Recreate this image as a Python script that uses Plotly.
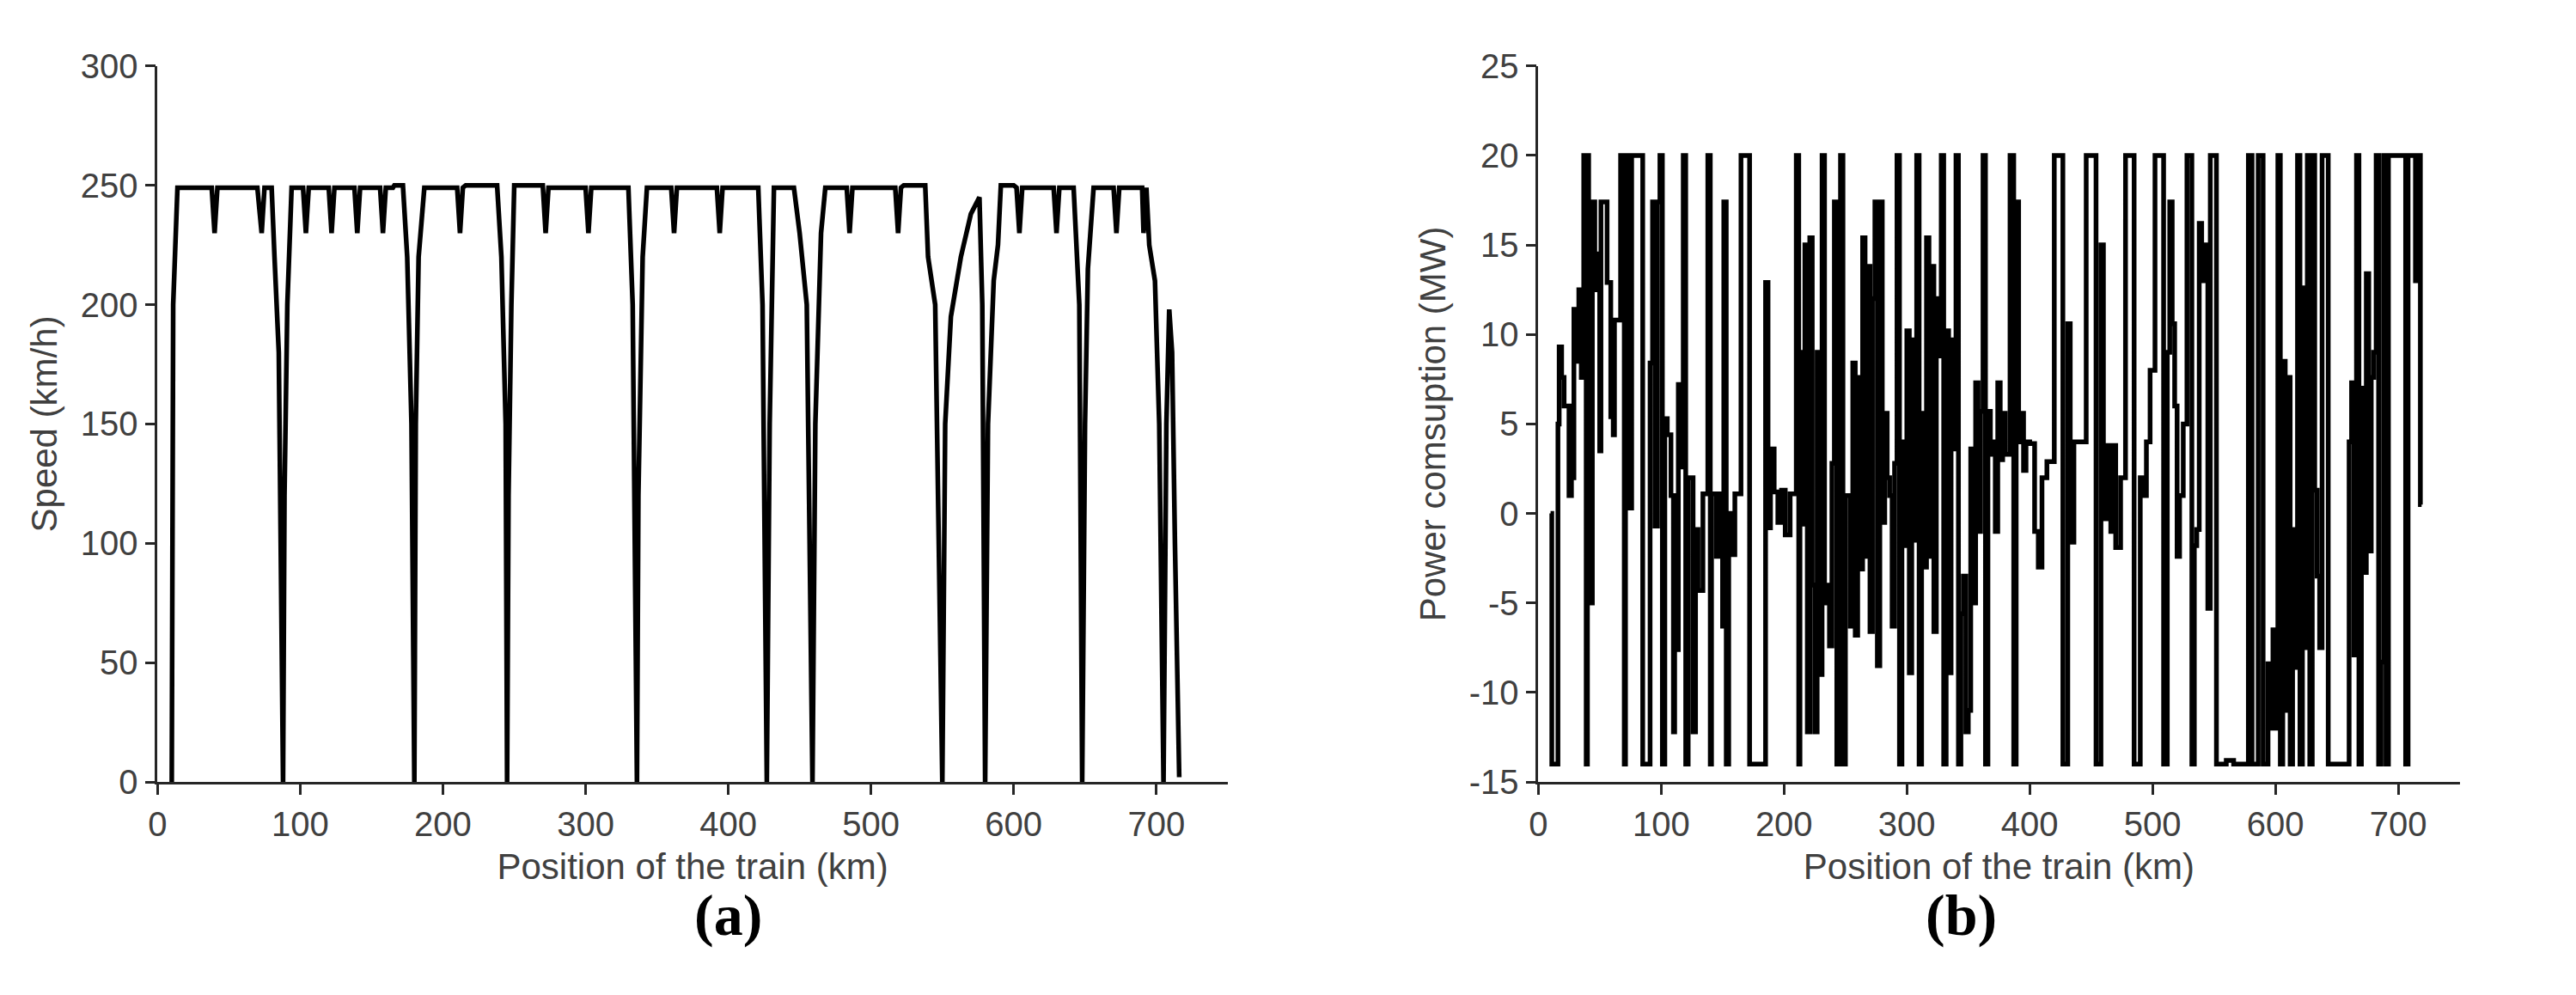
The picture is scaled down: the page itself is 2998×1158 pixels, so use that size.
import plotly.graph_objects as go
from plotly.subplots import make_subplots

speed_x = [10,11,14,38,40,42,70,73,75,80,82,85,88,
           89,91,94,102,104,106,120,122,124,138,140,142,156,158,160,165,166,172,175,178,180,
           181,183,187,210,212,214,216,238,241,244,245,
           246,248,250,270,272,274,300,302,304,330,333,336,
           337,340,343,360,362,364,392,394,396,421,424,427,
           429,432,446,450,455,459,
           461,465,468,483,485,487,517,519,521,523,538,540,545,550,
           552,556,563,570,576,578,580,
           582,586,589,591,600,602,604,606,628,630,632,642,646,648,
           650,652,656,670,672,674,690,691,693,695,699,702,705,
           707,709,711,713,716]
speed_y = [0,200,249,249,230,249,249,230,249,249,220,180,0,
           120,200,249,249,230,249,249,230,249,249,230,249,249,230,249,249,250,250,220,150,0,
           150,220,249,249,230,249,250,250,220,150,0,
           120,200,250,250,230,249,249,230,249,249,200,0,
           120,220,249,249,230,249,249,230,249,249,200,0,
           150,249,249,230,200,0,
           150,230,249,249,230,249,249,230,249,250,250,220,200,0,
           150,195,220,238,245,200,0,
           150,210,225,250,250,249,230,249,249,230,249,249,200,0,
           150,215,249,249,230,249,249,230,249,225,210,150,0,
           150,198,180,100,2]

# power steps: (position km, power MW)
power_steps = [
    (10,0),(11,-14),(16,5),(17,9.3),(19,7.6),(21,6),(25,1),(27,6),(28,2),(29,11.4),(31,8.5),(33,12.5),
    (35,7.6),(37,20),(39,-14),(40,20),(41,13),(43,-5),(44,17.4),(46,12.5),(48,14.5),(50,3.5),(51,17.4),
    (56,12.9),(59,5.4),(61,4.4),(62,10.8),(67,20),(70,-14),(71,14.2),(73,20),(74,0.3),(76,20),(85,-14),
    (91,8.4),(93,17.4),(95,-0.7),(97,17.4),(99,20),(101,-14),(103,5.3),(105,4.4),(108,1),(110,-12.2),
    (111,1),(112,-7.6),(114,7.2),(116,2.6),(118,20),(120,-14),(122,2),(126,-12.2),(128,-0.9),(130,-4.3),
    (134,1.1),(138,20),(140,-14),(141,1.1),(145,-2.4),(147,1.1),(150,-6.3),(151,17.4),(153,-14),(155,0),
    (158,-2.3),(160,1.1),(165,20),(172,-14),(185,12.9),(187,-0.8),(189,3.6),(192,1.2),(195,-0.5),
    (198,1.3),(201,-1.2),(205,1.1),(210,20),(212,-14),(213,9),(215,-0.6),(217,15),(219,-12.2),(221,15.4),
    (223,-4),(225,-12.2),(227,9),(229,-9),(231,20),(233,-5),(235,-4),(237,-7.4),(239,2.8),(241,17.4),
    (243,-14),(246,20),(248,-14),(250,1),(254,-6.3),(256,8.4),(258,-6.8),(260,7.6),(262,-3.1),(264,15.4),
    (266,-2.4),(268,13.8),(270,-6.6),(272,12),(274,17.4),(276,-8.5),(278,17.4),(280,-0.5),(282,5.6),
    (284,2),(286,1),(288,-6.3),(290,2.8),(292,20),(294,-14),(296,4),(298,-1.8),(300,10.2),(302,-8.9),
    (304,9.7),(306,-1.5),(308,20),(310,-14),(312,5.6),(314,-3),(316,15.4),(318,-2.4),(320,13.8),(322,-6.6),
    (324,12),(326,8.8),(328,20),(330,-14),(332,10.2),(334,-8.9),(336,9.7),(338,3.6),(340,20),(342,-14),
    (344,-5.6),(346,-3.5),(348,-12.2),(350,-11),(352,3.6),(354,-5),(356,7.3),(358,-1),(360,5.7),(362,20),
    (364,-14),(366,5.7),(368,3.3),(370,4),(372,-1),(374,7.3),(376,3),(378,5.6),(380,3.3),(384,20),
    (387,-14),(389,17.4),(391,4),(393,5.6),(395,2.4),(397,4),(400,3.9),(404,-1),(407,-3),(410,2),(414,2.9),
    (420,20),(427,-14),(431,10.6),(433,-1.6),(436,4),(446,20),(454,-14),(458,15),(460,-0.3),(463,3.8),
    (466,-1),(468,3.8),(470,-1.9),(474,2),(478,20),(485,-14),(490,2),(492,1),(495,4),(498,8),(502,20),
    (509,-14),(512,9),(514,17.4),(516,10.6),(518,6),(520,-2.4),(522,1),(525,5),(528,20),(532,-14),
    (534,-1.8),(536,-0.9),(538,16.2),(540,13),(542,15),(545,-5.3),(547,20),(552,-14),(556,-14),(560,-13.8),
    (566,-14),(575,-14),(578,20),(581,-14),(586,20),(590,-14),(594,-8.4),(596,-12),(598,-6.5),(600,-12),
    (602,20),(604,-14),(606,8.5),(608,-11),(610,7.6),(612,-14),(614,-0.9),(616,-8.6),(618,20),(620,-14),
    (622,12.6),(624,-7.5),(626,20),(628,-14),(630,20),(632,1.3),(634,-3.5),(636,-7.5),(638,20),(643,-14),
    (660,4),(662,7.3),(664,-7.9),(666,20),(668,-14),(670,7),(672,-3.3),(674,13.4),(676,-2.1),(678,7.6),
    (680,9),(682,20),(684,-14),(686,-8.3),(688,20),(690,-14),(692,20),(706,-14),(708,20),(712,20),
    (714,13),(716,20),(718,0.5),(719,0.5)]
power_x = [p[0] for p in power_steps]
power_y = [p[1] for p in power_steps]

x_ticks = [0, 100, 200, 300, 400, 500, 600, 700]
p_ticks = [-15, -10, -5, 0, 5, 10, 15, 20, 25]

fig = make_subplots(rows=1, cols=2)
fig.add_trace(go.Scatter(x=speed_x, y=speed_y, mode="lines", line=dict(color="black", width=5.5),
                         showlegend=False), 1, 1)
fig.add_trace(go.Scatter(x=power_x, y=power_y, mode="lines", line=dict(color="black", width=5.5, shape="hv"),
                         showlegend=False), 1, 2)

axfont = dict(family="Liberation Sans, Arial", size=40, color="#404040")
common = dict(showline=True, linecolor="#262626", linewidth=2.5, ticks="outside", ticklen=12,
              tickcolor="#262626", tickwidth=2.5, showgrid=False, zeroline=False, tickfont=axfont,
              title_font=dict(family="Liberation Sans, Arial", size=42, color="#404040"))
fig.update_xaxes(range=[0, 750], tickvals=x_ticks, title_text="Position of the train (km)",
                 title_standoff=14, **common)
fig.update_xaxes(domain=[0.055, 0.472], row=1, col=1)
fig.update_xaxes(domain=[0.593, 0.952], row=1, col=2)
fig.update_yaxes(range=[0, 300], dtick=50, title_text="Speed (km/h)", row=1, col=1, **common)
fig.update_yaxes(range=[-15, 25], tickvals=p_ticks, ticktext=[str(v) for v in p_ticks],
                 title_text="Power comsuption (MW)", row=1, col=2, **common)
fig.update_yaxes(domain=[0.21, 0.958])

for txt, xp in [("(a)", 0.2635), ("(b)", 0.7725)]:
    fig.add_annotation(text="<b>" + txt + "</b>", x=xp, y=0.035, xref="paper", yref="paper",
                       showarrow=False, font=dict(family="Liberation Serif, Times New Roman", size=68, color="black"))

fig.update_layout(width=2998, height=1158, plot_bgcolor="white", paper_bgcolor="white",
                  margin=dict(l=0, r=0, t=0, b=0))
fig.write_html("out.html")
